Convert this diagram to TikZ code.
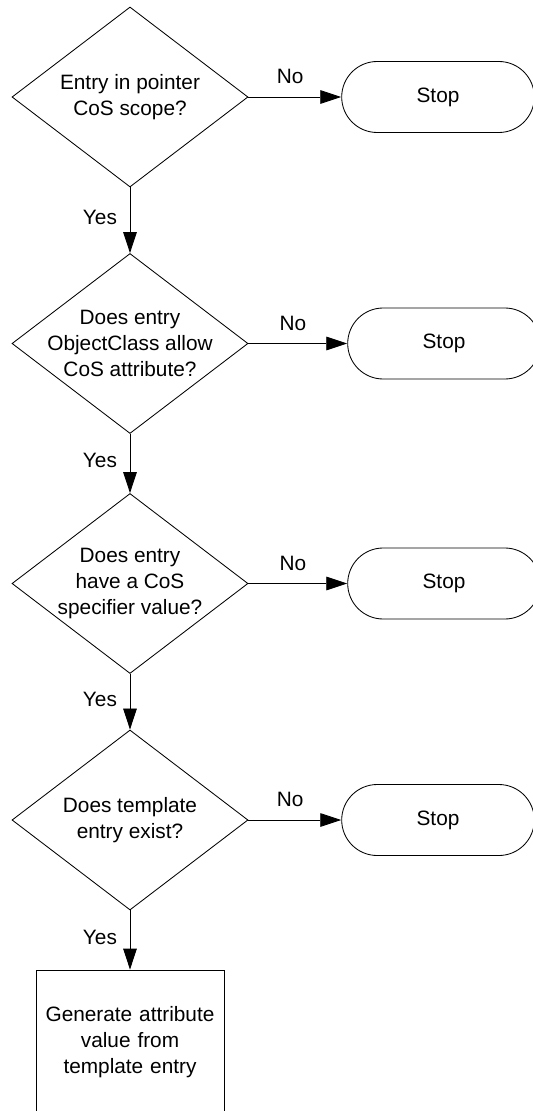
\documentclass[tikz,border=0pt]{standalone}
\usepackage{fontspec}
\setmainfont{Liberation Sans}
\usepackage{tikz}
\usetikzlibrary{shapes.geometric, shapes.misc, arrows.meta}
\tikzstyle{decision} = [diamond, draw, minimum width=5.9cm, minimum height=4.5cm, inner sep=0pt]
\tikzstyle{qtext} = [align=center]
\tikzstyle{terminal} = [draw, rounded rectangle, minimum width=5.05cm, minimum height=1.775cm]
\tikzstyle{block} = [draw, rectangle, minimum width=4.7cm, minimum height=3.6cm,
    text width=4.4cm, align=center]
\tikzstyle{arrow} = [->, >={Triangle[length=5.25mm, width=3.4mm]}]

\begin{document}
\begin{tikzpicture}[auto, node distance=6cm, line width=0.6pt,
    font=\fontsize{14.8}{18.3}\selectfont]
    \useasboundingbox (-3.25,2.425) rectangle (10.05,-25.35);
    % The chain of questions
    \node [decision, label={[qtext]center:Entry in pointer\\CoS scope?}] (scope) {};
    \node [decision, below of=scope, node distance=6.1625cm,
            label={[qtext]center:Does entry\\ObjectClass allow\\CoS attribute?}] (objclass) {};
    \node [decision, below of=objclass,
            label={[qtext]center:Does entry\\have a CoS\\specifier value?}] (specifier) {};
    \node [decision, below of=specifier, node distance=5.9125cm,
            label={[qtext]center:Does template\\entry exist?}] (template) {};
    \node [block, below of=template, node distance=5.55cm] (generate)
        {Generate attribute value from template entry};

    % Every "No" ends the flow
    \node [terminal, right of=scope, node distance=7.7cm] (stopa) {Stop};
    \node [terminal, right of=objclass, node distance=7.85cm] (stopb) {Stop};
    \node [terminal, right of=specifier, node distance=7.85cm] (stopc) {Stop};
    \node [terminal, right of=template, node distance=7.7cm] (stopd) {Stop};

    \draw [arrow] (scope) -- node[above=2mm, pos=0.45] {No} (stopa);
    \draw [arrow] (objclass) -- node[above=2mm, pos=0.45] {No} (stopb);
    \draw [arrow] (specifier) -- node[above=2mm, pos=0.45] {No} (stopc);
    \draw [arrow] (template) -- node[above=2mm, pos=0.45] {No} (stopd);

    \draw [arrow] (scope) -- node[left=2mm, pos=0.45] {Yes} (objclass);
    \draw [arrow] (objclass) -- node[left=2mm, pos=0.45] {Yes} (specifier);
    \draw [arrow] (specifier) -- node[left=2mm, pos=0.45] {Yes} (template);
    \draw [arrow] (template) -- node[left=2mm, pos=0.45] {Yes} (generate);
\end{tikzpicture}
\end{document}
